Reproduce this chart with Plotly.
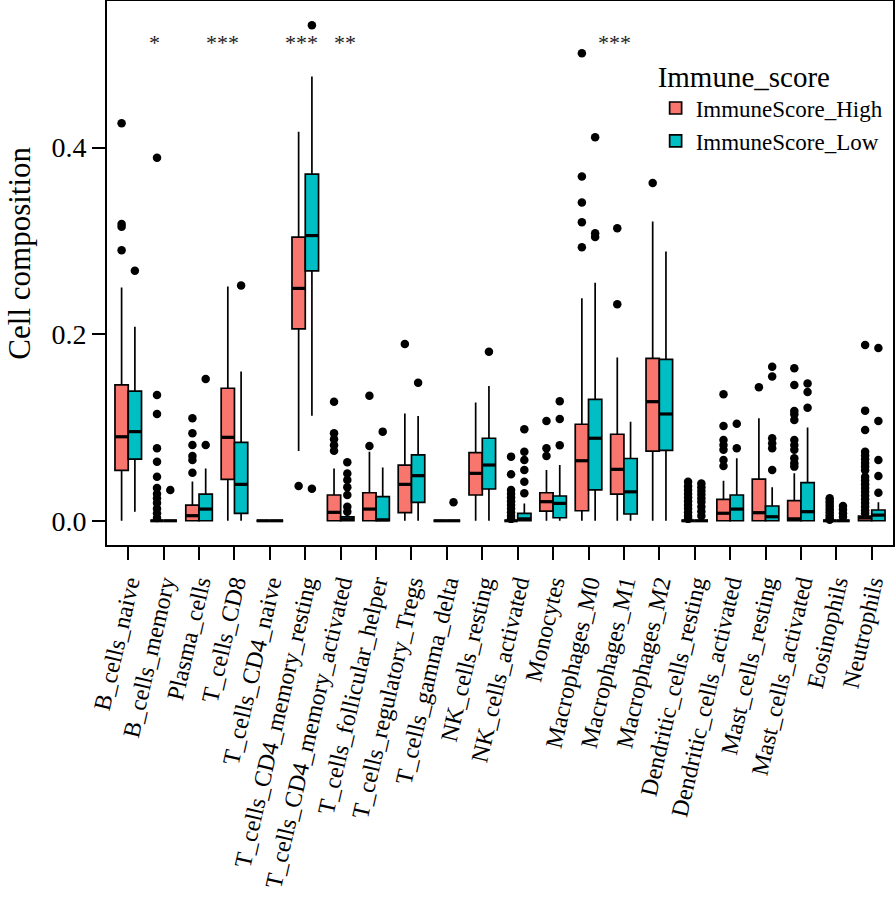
import plotly.graph_objects as go

categories = ["B_cells_naive", "B_cells_memory", "Plasma_cells", "T_cells_CD8", "T_cells_CD4_naive",
              "T_cells_CD4_memory_resting", "T_cells_CD4_memory_activated", "T_cells_follicular_helper",
              "T_cells_regulatory_Tregs", "T_cells_gamma_delta", "NK_cells_resting", "NK_cells_activated",
              "Monocytes", "Macrophages_M0", "Macrophages_M1", "Macrophages_M2", "Dendritic_cells_resting",
              "Dendritic_cells_activated", "Mast_cells_resting", "Mast_cells_activated", "Eosinophils", "Neutrophils"]

# ImmuneScore_High box statistics
high_q1 = [0.054, 0, 0, 0.0444, 0, 0.2056, 0, 0, 0.0086, 0, 0.0276, 0, 0.0104, 0.0107, 0.0286, 0.0747, 0, 0, 0, 0, 0, 0]
high_med = [0.090, 0, 0.0054, 0.0894, 0, 0.249, 0.009, 0.0125, 0.039, 0, 0.0508, 0, 0.0204, 0.0643, 0.0551, 0.1276, 0, 0.008, 0.0086, 0.002, 0, 0.003]
high_q3 = [0.1455, 0, 0.0168, 0.142, 0, 0.304, 0.0276, 0.030, 0.0597, 0, 0.073, 0, 0.030, 0.1034, 0.0927, 0.174, 0, 0.023, 0.0447, 0.0215, 0, 0.005]
high_lo = [0, 0, 0, 0, 0, 0.0747, 0, 0, 0, 0, 0, 0, 0, 0, 0, 0, 0, 0, 0, 0, 0, 0]
high_hi = [0.250, 0, 0.042, 0.251, 0, 0.417, 0.056, 0.074, 0.115, 0, 0.1266, 0, 0.0544, 0.2385, 0.175, 0.3206, 0, 0.0429, 0.1098, 0.0508, 0, 0.005]

# ImmuneScore_Low box statistics
low_q1 = [0.066, 0, 0, 0.0079, 0, 0.2678, 0, 0, 0.0197, 0, 0.034, 0, 0.0032, 0.033, 0.0072, 0.0754, 0, 0, 0, 0, 0, 0]
low_med = [0.0955, 0, 0.0125, 0.039, 0, 0.3056, 0.002, 0.001, 0.0483, 0, 0.0597, 0.002, 0.0186, 0.0884, 0.031, 0.1144, 0, 0.0125, 0.0043, 0.0097, 0, 0.006]
low_q3 = [0.139, 0, 0.0286, 0.084, 0, 0.3715, 0.0043, 0.0258, 0.0705, 0, 0.0884, 0.0079, 0.0265, 0.130, 0.0667, 0.173, 0, 0.0276, 0.0158, 0.0408, 0, 0.0115]
low_lo = [0.0097, 0, 0, 0, 0, 0.1126, 0, 0, 0, 0, 0, 0, 0, 0, 0, 0, 0, 0, 0, 0, 0, 0]
low_hi = [0.208, 0, 0.056, 0.160, 0, 0.476, 0.006, 0.057, 0.1123, 0, 0.1445, 0.0186, 0.0597, 0.255, 0.106, 0.2885, 0, 0.0669, 0.0358, 0.100, 0, 0.0197]

high_out = [
    [0.426, 0.318, 0.315, 0.290],
    [0.389, 0.1348, 0.1144, 0.0776, 0.0633, 0.0472, 0.035, 0.029, 0.024, 0.019, 0.013, 0.008, 0.003],
    [0.1098, 0.0937, 0.0812, 0.0694, 0.065, 0.0515],
    [],
    [],
    [0.0372],
    [0.1276, 0.0937, 0.0874, 0.081, 0.075],
    [0.134, 0.080],
    [0.1895],
    [],
    [],
    [0.0687, 0.0498, 0.033, 0.029, 0.025, 0.021, 0.017, 0.013, 0.009, 0.005, 0.002],
    [0.107, 0.0776, 0.0694],
    [0.501, 0.369, 0.341, 0.320, 0.293],
    [0.3135, 0.232],
    [0.362],
    [0.0418, 0.037, 0.033, 0.029, 0.025, 0.021, 0.017, 0.013, 0.009, 0.005, 0.002],
    [0.1355, 0.1016, 0.0866, 0.0812, 0.076, 0.065, 0.0587],
    [0.143],
    [0.1634, 0.1455, 0.1176, 0.114, 0.108, 0.0866, 0.0812, 0.076, 0.0669, 0.0615, 0.058],
    [0.024, 0.021, 0.018, 0.015, 0.012, 0.009, 0.006, 0.003, 0.001],
    [0.1884, 0.118, 0.0973, 0.074, 0.070, 0.066, 0.062, 0.058, 0.054, 0.047, 0.043, 0.039, 0.035,
     0.031, 0.027, 0.023, 0.019, 0.015, 0.011, 0.008],
]
low_out = [
    [0.268],
    [0.033],
    [0.152, 0.0812],
    [0.252],
    [],
    [0.531, 0.0343],
    [0.0626, 0.0506, 0.0436, 0.0358, 0.0276, 0.015, 0.0097],
    [0.0955],
    [0.148],
    [0.0197],
    [0.181],
    [0.098, 0.074, 0.065, 0.0544, 0.0418, 0.0294],
    [0.128, 0.109, 0.081],
    [0.411, 0.308, 0.304],
    [],
    [],
    [0.040, 0.036, 0.032, 0.028, 0.024, 0.020, 0.015, 0.010, 0.005],
    [0.104, 0.0776],
    [0.165, 0.1545, 0.0884, 0.083, 0.0776, 0.0544],
    [0.147, 0.138, 0.121],
    [0.0158, 0.012, 0.008, 0.004],
    [0.185, 0.107, 0.065, 0.048, 0.030],
]

sig_labels = ["*", "***", "***", "**", "***"]
sig_pos = [0.75, 2.65, 4.9, 6.13, 13.74]   # x positions of significance labels (category units)
sig_y = 0.513

y_ticks = [0.0, 0.2, 0.4]
y_title = "Cell composition"

FONT = "Liberation Serif"
RED = "#F8766D"
TEAL = "#00BFC4"
DODGE = 0.1875
BOXW = 0.375


def tf(size):
    return dict(family=FONT, size=size, color="black", style="normal", weight="normal")


fig = go.Figure()
groups = [
    ("ImmuneScore_High", RED, -DODGE, high_q1, high_med, high_q3, high_lo, high_hi, high_out),
    ("ImmuneScore_Low", TEAL, DODGE, low_q1, low_med, low_q3, low_lo, low_hi, low_out),
]
for name, col, off, q1, med, q3, lo, hi, outs in groups:
    xs = [i + off for i in range(len(categories))]
    fig.add_trace(go.Box(
        name=name, x=xs, q1=q1, median=med, q3=q3, lowerfence=lo, upperfence=hi,
        width=BOXW, fillcolor=col, line=dict(color="black", width=1.7),
        whiskerwidth=0, boxpoints=False, showlegend=True,
    ))
    # thicker median bars
    mx, my = [], []
    for x, m in zip(xs, med):
        mx += [x - BOXW / 2, x + BOXW / 2, None]
        my += [m, m, None]
    fig.add_trace(go.Scatter(x=mx, y=my, mode="lines", line=dict(color="black", width=3.2),
                             showlegend=False, hoverinfo="skip"))
    ox, oy = [], []
    for x, vals in zip(xs, outs):
        ox += [x] * len(vals)
        oy += vals
    fig.add_trace(go.Scatter(x=ox, y=oy, mode="markers", marker=dict(color="black", size=8.5),
                             showlegend=False))

for t, x in zip(sig_labels, sig_pos):
    fig.add_annotation(x=x, y=sig_y, text=t, showarrow=False, xref="x", yref="y",
                       font=dict(family=FONT, size=22, color="#222"))

# y-axis title (placed as in the reference, slightly above the panel centre)
fig.add_annotation(x=-0.111, y=0.537, xref="paper", yref="paper", text=y_title, textangle=-90,
                   showarrow=False, xanchor="center", yanchor="middle", font=tf(31))

fig.update_layout(
    width=896, height=903,
    margin=dict(l=107, r=3, t=1, b=358),
    paper_bgcolor="white", plot_bgcolor="white",
    boxmode="overlay",
    font=dict(family=FONT, color="black"),
    legend=dict(
        title=dict(text="Immune_score", font=tf(29)),
        font=tf(23),
        x=0.698, y=0.912, xanchor="left", yanchor="top",
        bgcolor="rgba(0,0,0,0)", tracegroupgap=0,
    ),
)
fig.update_xaxes(
    range=[-0.6, 21.6], tickmode="array", tickvals=list(range(len(categories))), ticktext=categories,
    tickangle=-77, tickfont=tf(24),
    ticks="outside", ticklen=13, tickwidth=1.6, tickcolor="black",
    showline=True, linecolor="black", linewidth=1.6, mirror=True,
    showgrid=False, zeroline=False, automargin=False,
)
fig.update_yaxes(
    range=[-0.026, 0.557], tickmode="array", tickvals=y_ticks, ticktext=[f"{v:.1f}" for v in y_ticks],
    tickfont=tf(28),
    ticks="outside", ticklen=13, tickwidth=1.6, tickcolor="black",
    showline=True, linecolor="black", linewidth=1.6, mirror=True,
    showgrid=False, zeroline=False, automargin=False,
)

fig.write_html("out.html", config={"displayModeBar": False},
               post_script="document.body.style.margin='0';")
